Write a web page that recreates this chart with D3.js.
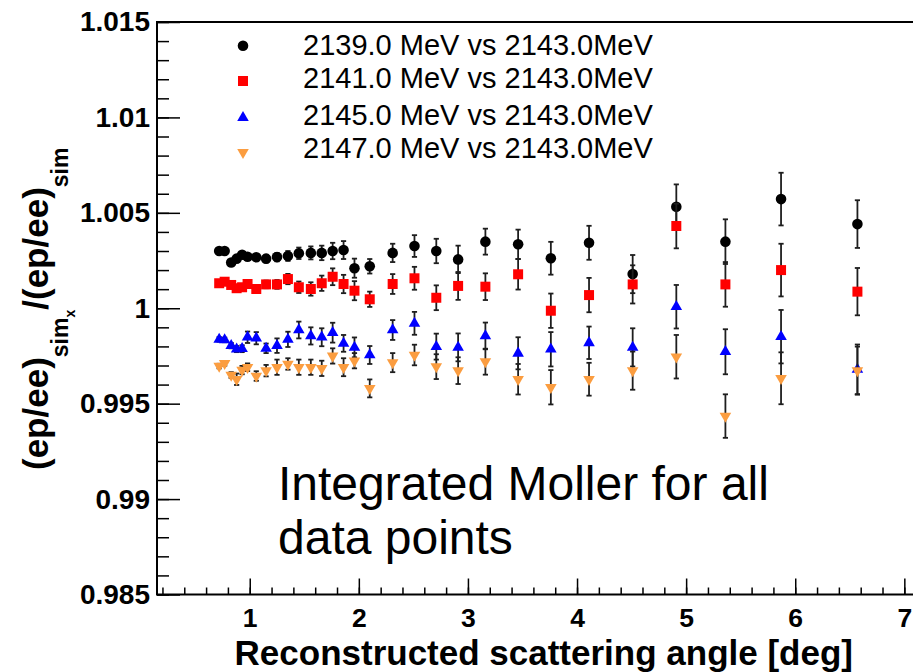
<!DOCTYPE html>
<html>
<head>
<meta charset="utf-8">
<script src="https://cdn.jsdelivr.net/npm/d3@7"></script>
<style>
    html, body { margin: 0; padding: 0; background: #fff; }
    svg { display: block; }
</style>
</head>
<body>
<svg id="chart" width="913" height="672"></svg>
<script>
// Reconstructed scattering angle [deg], same bins for every series
const angles = [0.72, 0.77, 0.83, 0.88, 0.93, 0.98, 1.06, 1.15, 1.25, 1.35, 1.45, 1.56, 1.66, 1.76, 1.86,
    1.96, 2.1, 2.31, 2.51, 2.71, 2.91, 3.16, 3.46, 3.76, 4.11, 4.51, 4.91, 5.36, 5.87, 6.57];

// ratios
const ratio2139 = [1.0030, 1.0030, 1.0024, 1.0026, 1.0028, 1.0027, 1.00267, 1.0026, 1.00268, 1.00274, 1.00288,
    1.0029, 1.0029, 1.0030, 1.00305, 1.0021, 1.0022, 1.0029, 1.00326, 1.0030, 1.00256, 1.00349, 1.00335,
    1.00262, 1.00343, 1.00179, 1.00532, 1.00349, 1.00572, 1.00441];
const ratio2141 = [1.00131, 1.00139, 1.00122, 1.00105, 1.00110, 1.00127, 1.00101, 1.00125, 1.00125, 1.00153,
    1.00110, 1.00101, 1.00131, 1.00165, 1.00127, 1.00092, 1.00047, 1.00127, 1.00157, 1.00055, 1.00117,
    1.00113, 1.00178, 0.99987, 1.00069, 1.00125, 1.00431, 1.00125, 1.00200, 1.00087];
const ratio2145 = [0.99837, 0.99834, 0.99804, 0.99786, 0.99788, 0.99848, 0.99843, 0.99790, 0.99804, 0.99837,
    0.99886, 0.99855, 0.99848, 0.99872, 0.99816, 0.99795, 0.99755, 0.99886, 0.99921, 0.99799, 0.99795,
    0.99855, 0.99764, 0.99785, 0.99819, 0.99795, 1.00008, 0.99772, 0.99851, 0.99680];
const ratio2147 = [0.99697, 0.99711, 0.99650, 0.99628, 0.99676, 0.99691, 0.99645, 0.99673, 0.99691, 0.99708,
    0.99691, 0.99691, 0.99685, 0.99750, 0.99691, 0.99725, 0.99580, 0.99715, 0.99755, 0.99694, 0.99673,
    0.99720, 0.99628, 0.99586, 0.99628, 0.99673, 0.99746, 0.99435, 0.99633, 0.99673];

// error bar half-lengths
const err2139 = [0.0001, 0.0001, 0.00012, 0.00013, 0.00014, 0.00015, 0.00017, 0.0002, 0.00022, 0.00026, 0.0003,
    0.00034, 0.00038, 0.00043, 0.00047, 0.0005, 0.00038, 0.00048, 0.00057, 0.00064, 0.00072, 0.00068, 0.00077,
    0.00086, 0.00089, 0.001, 0.00117, 0.00117, 0.00138, 0.00125];
const err2141 = [0.00012, 0.0001, 0.00013, 0.00014, 0.00015, 0.00016, 0.00018, 0.0002, 0.00023, 0.00027, 0.0003,
    0.00035, 0.0004, 0.00044, 0.00048, 0.0005, 0.0004, 0.00052, 0.0006, 0.00065, 0.00073, 0.0007, 0.0008,
    0.0009, 0.0009, 0.001, 0.00117, 0.00117, 0.00138, 0.00124];
const err2145 = [0.00012, 0.00012, 0.00014, 0.00016, 0.00018, 0.0003, 0.00032, 0.00025, 0.00038, 0.0004, 0.00044,
    0.00045, 0.00047, 0.00052, 0.00044, 0.00052, 0.00047, 0.00052, 0.0006, 0.00068, 0.00073, 0.0007, 0.00084,
    0.0009, 0.00085, 0.001, 0.00114, 0.00118, 0.0014, 0.0013];
const err2147 = [0.00012, 0.00012, 0.00015, 0.0003, 0.00022, 0.0002, 0.00025, 0.0003, 0.0004, 0.0003, 0.0004,
    0.0004, 0.0004, 0.0004, 0.00047, 0.0004, 0.00047, 0.0005, 0.00054, 0.00065, 0.0007, 0.00068, 0.0008,
    0.0009, 0.00086, 0.001, 0.00114, 0.00114, 0.00136, 0.00126];

const seriesLabels = [
    "2139.0 MeV vs 2143.0MeV",
    "2141.0 MeV vs 2143.0MeV",
    "2145.0 MeV vs 2143.0MeV",
    "2147.0 MeV vs 2143.0MeV",
];

const xTickValues = [1, 2, 3, 4, 5, 6, 7];
const yTickValues = [0.985, 0.99, 0.995, 1, 1.005, 1.01, 1.015];
const yTickLabels = ["0.985", "0.99", "0.995", "1", "1.005", "1.01", "1.015"];

const xTitle = "Reconstructed scattering angle [deg]";
const noteLines = ["Integrated Moller for all", "data points"];

// ---- layout / style ----
const font = "'Liberation Sans', Arial, Helvetica, sans-serif";
const frame = { left: 157, top: 22, bottom: 594.5, right: 920.7 };

const x = d3.scaleLinear([0.15, 7.15], [frame.left, frame.right]);
const y = d3.scaleLinear([0.985, 1.015], [frame.bottom, frame.top]);

const series = [
    { values: ratio2139, errs: err2139, color: "#000000", shape: d3.symbolCircle, size: 88, rot: 0 },
    { values: ratio2141, errs: err2141, color: "#ff0000", shape: d3.symbolSquare, size: 100, rot: 0 },
    { values: ratio2145, errs: err2145, color: "#0000ff", shape: d3.symbolTriangle, size: 58, rot: 0 },
    { values: ratio2147, errs: err2147, color: "#fb9d40", shape: d3.symbolTriangle, size: 58, rot: 180 },
];

const svg = d3.select("#chart");

// frame
svg.append("rect")
    .attr("x", frame.left).attr("y", frame.top)
    .attr("width", frame.right - frame.left)
    .attr("height", frame.bottom - frame.top)
    .attr("fill", "none")
    .attr("stroke", "#000")
    .attr("stroke-width", 2);

// y axis: major ticks with labels, minor ticks every 0.001
svg.append("g")
    .attr("transform", `translate(${frame.left},0)`)
    .call(d3.axisLeft(y).tickValues(d3.range(0.985, 1.0151, 0.001)).tickSize(-12).tickFormat(""))
    .call(g => g.select(".domain").remove())
    .selectAll("line").attr("stroke-width", 1.5);

svg.append("g")
    .attr("transform", `translate(${frame.left},0)`)
    .call(d3.axisLeft(y).tickValues(yTickValues).tickSize(-23).tickPadding(7)
        .tickFormat((d, i) => yTickLabels[i]))
    .call(g => g.select(".domain").remove())
    .call(g => g.selectAll("line").attr("stroke-width", 1.5))
    .selectAll("text")
        .attr("fill", "#000")
        .style("font-family", font)
        .style("font-weight", "bold")
        .style("font-size", "28px");

// x axis: minor ticks every 0.2, major at integers
svg.append("g")
    .attr("transform", `translate(0,${frame.bottom})`)
    .call(d3.axisBottom(x).tickValues(d3.range(0.2, 7.15, 0.2)).tickSize(-7).tickFormat(""))
    .call(g => g.select(".domain").remove())
    .selectAll("line").attr("stroke-width", 1.5);

svg.append("g")
    .attr("transform", `translate(0,${frame.bottom})`)
    .call(d3.axisBottom(x).tickValues(xTickValues).tickSize(-16).tickPadding(14).tickFormat(d3.format("d")))
    .call(g => g.select(".domain").remove())
    .call(g => g.selectAll("line").attr("stroke-width", 1.5))
    .selectAll("text")
        .attr("fill", "#000")
        .style("font-family", font)
        .style("font-weight", "bold")
        .style("font-size", "26.5px");

// axis titles
svg.append("text")
    .attr("x", 853).attr("y", 665)
    .attr("text-anchor", "end")
    .style("font-family", font)
    .style("font-weight", "bold")
    .style("font-size", "35px")
    .text(xTitle);

const yTitle = svg.append("text")
    .attr("transform", "translate(48,470) rotate(-90)")
    .style("font-family", font)
    .style("font-weight", "bold")
    .style("font-size", "35px");
yTitle.append("tspan").text("(ep/ee)");
yTitle.append("tspan").attr("dy", 20).style("font-size", "23px").text("sim");
yTitle.append("tspan").attr("dy", 7).style("font-size", "14px").text("x");
yTitle.append("tspan").attr("dy", -27).text("/(ep/ee)");
yTitle.append("tspan").attr("dy", 20).style("font-size", "23px").text("sim");

// error bars + markers
const capW = 2.6;
series.forEach(s => {
    const g = svg.append("g");
    const pts = angles.map((a, i) => ({ a, v: s.values[i], e: s.errs[i] }));

    const bars = g.selectAll("g.bar").data(pts).join("g").attr("class", "bar")
        .attr("stroke", "#1e1e1e").attr("stroke-width", 1.8);
    bars.append("line")
        .attr("x1", d => x(d.a)).attr("x2", d => x(d.a))
        .attr("y1", d => y(d.v - d.e)).attr("y2", d => y(d.v + d.e));
    bars.append("line")
        .attr("x1", d => x(d.a) - capW).attr("x2", d => x(d.a) + capW)
        .attr("y1", d => y(d.v + d.e)).attr("y2", d => y(d.v + d.e));
    bars.append("line")
        .attr("x1", d => x(d.a) - capW).attr("x2", d => x(d.a) + capW)
        .attr("y1", d => y(d.v - d.e)).attr("y2", d => y(d.v - d.e));

    g.selectAll("path.pt").data(pts).join("path").attr("class", "pt")
        .attr("d", d3.symbol(s.shape, s.size))
        .attr("fill", s.color)
        .attr("transform", d => `translate(${x(d.a)},${y(d.v)}) rotate(${s.rot})`);
});

// legend
const legendMarkY = [45.7, 81, 117.7, 152.3];
const legendTextY = [55, 88.3, 125, 158.3];
series.forEach((s, i) => {
    svg.append("path")
        .attr("d", d3.symbol(s.shape, s.size)())
        .attr("fill", s.color)
        .attr("transform", `translate(243,${legendMarkY[i]}) rotate(${s.rot})`);
    svg.append("text")
        .attr("x", 303).attr("y", legendTextY[i])
        .style("font-family", font)
        .style("font-size", "29px")
        .text(seriesLabels[i]);
});

// annotation
svg.append("g").selectAll("text").data(noteLines).join("text")
    .attr("x", 278)
    .attr("y", (d, i) => 500 + i * 54)
    .style("font-family", font)
    .style("font-size", "48px")
    .text(d => d);
</script>
</body>
</html>
